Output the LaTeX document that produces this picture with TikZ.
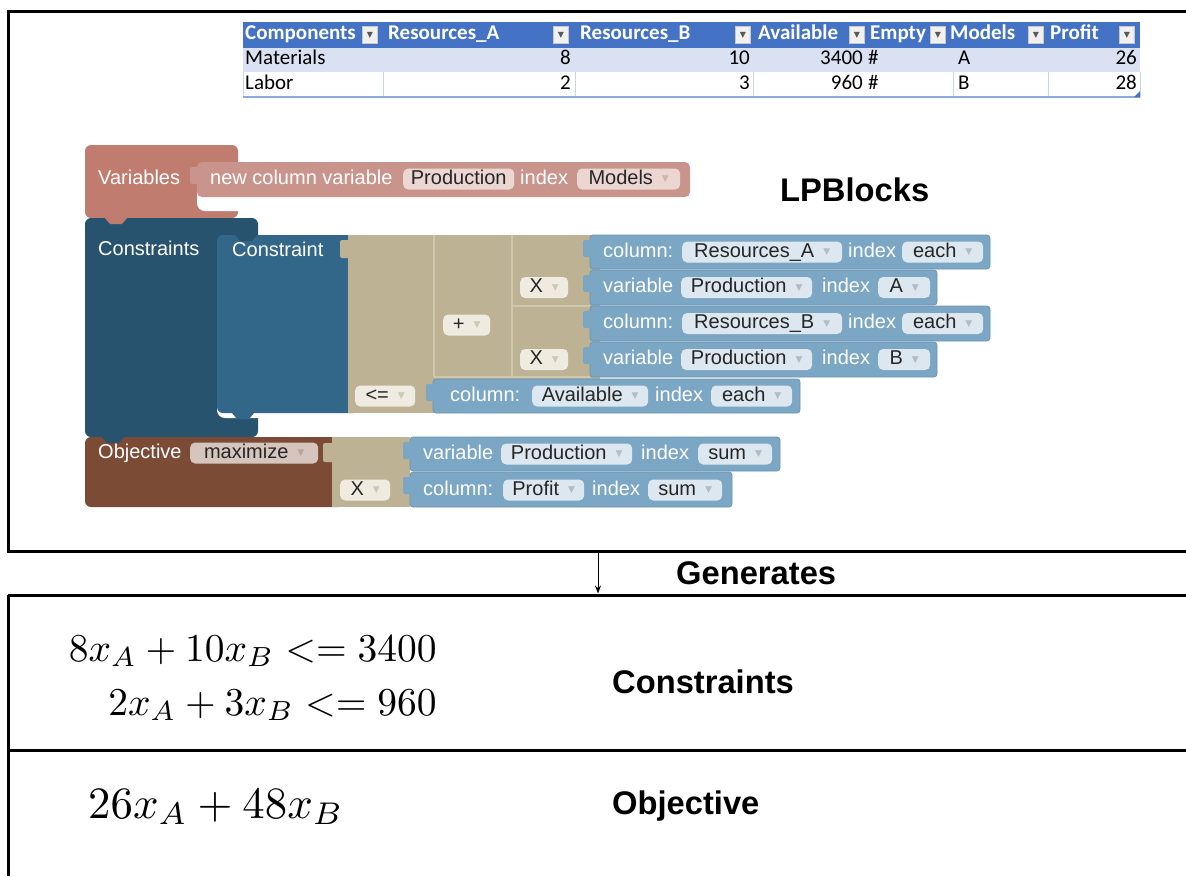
\RequirePackage{fix-cm}
\documentclass[tikz,border=0pt]{standalone}
\usepackage[no-math]{fontspec}
\setmainfont{Liberation Sans}
\newfontfamily\sheetfont{Carlito}
\newfontfamily\glyphfont{DejaVu Sans}
\usetikzlibrary{arrows.meta}

% spreadsheet colours
\definecolor{tblhead}{HTML}{4472C4}
\definecolor{tblrow}{HTML}{D9E1F2}
\definecolor{tblgrid}{HTML}{C9D5EA}
\definecolor{tbledge}{HTML}{8EA9DB}
\definecolor{ddboxfill}{HTML}{F0F0F0}
\definecolor{ddboxline}{HTML}{C8C8C8}
\definecolor{hddarrow}{HTML}{595959}
% block colours
\definecolor{varblk}{HTML}{C07D6F}
\definecolor{varchild}{HTML}{C9948C}
\definecolor{varfield}{HTML}{EBD6D2}
\definecolor{consdark}{HTML}{28536F}
\definecolor{consmid}{HTML}{32678A}
\definecolor{tanblk}{HTML}{BDB394}
\definecolor{tanseam}{HTML}{D0C8AE}
\definecolor{tanfield}{HTML}{EFEBE1}
\definecolor{blueblk}{HTML}{7BA6C4}
\definecolor{blueedge}{HTML}{6A94B1}
\definecolor{bluefield}{HTML}{DCE7EF}
\definecolor{objblk}{HTML}{7B4B35}
\definecolor{objfield}{HTML}{D6C5BD}
\definecolor{ddarrow}{HTML}{B3BCC2}
\definecolor{tanarrow}{HTML}{CFC8B4}
\definecolor{pinkarrow}{HTML}{D2B3AD}
\definecolor{brownarrow}{HTML}{B9A79F}

% small dropdown marks
\newcommand\dd[1][ddarrow]{\hspace{9pt}\raisebox{2.5pt}{\glyphfont\fontsize{9}{9}\selectfont\textcolor{#1}{▼}}\hspace{4pt}}
\newcommand\hdd{{\glyphfont\fontsize{8}{8}\selectfont\textcolor{hddarrow}{▼}}}

\tikzset{
  frame/.style={line width=3pt, draw=black},
  lbl/.style={anchor=west, inner sep=0pt, font=\bfseries\fontsize{32.7}{38}\selectfont},
  btext/.style={anchor=west, inner sep=0pt, text=white, font=\fontsize{20}{24}\selectfont, text height=14.5pt, text depth=4.5pt},
  field/.style={anchor=west, inner xsep=7pt, inner ysep=1pt, rounded corners=5pt, text=black!85, font=\fontsize{20}{24}\selectfont, text height=14.5pt, text depth=4.5pt},
  bfield/.style={field, fill=bluefield},
  pfield/.style={field, fill=varfield},
  tfield/.style={field, fill=tanfield},
  ofield/.style={field, fill=objfield},
  thead/.style={anchor=west, inner sep=0pt, text=white, font=\sheetfont\bfseries\fontsize{21}{25}\selectfont, text height=13pt, text depth=4pt},
  tcell/.style={inner sep=0pt, text=black, font=\sheetfont\fontsize{21}{25}\selectfont, text height=13pt, text depth=4pt},
  ddbox/.style={draw=ddboxline, fill=ddboxfill, minimum width=15pt, minimum height=17pt, inner sep=0pt},
  blueb/.style={fill=blueblk, draw=blueedge, line width=0.7pt, rounded corners=3pt},
  btab/.style={fill=blueblk, rounded corners=2pt},
}

\begin{document}
\begin{tikzpicture}[x=1pt, y=-1pt]
\useasboundingbox (0,0) rectangle (1186,876);
\fill[white] (0,0) rectangle (1186,876);

% ---------- frames ----------
\draw[frame] (1186,11) -- (8,11) -- (8,551) -- (1186,551);
\draw[frame] (8,595) -- (1186,595);
\draw[frame] (8,750) -- (1186,750);
\draw[frame] (8,595) -- (8,876);

% ---------- data sheet ----------
\fill[tblhead] (243,22) rectangle (1140,48);
\fill[tblrow] (243,48) rectangle (1140,72);
\draw[tblgrid, line width=1pt]
  (243,72) -- (243,97) (383,72) -- (383,97) (575,72) -- (575,97)
  (753,72) -- (753,97) (953,72) -- (953,97) (1048,72) -- (1048,97)
  (1140,72) -- (1140,97);
\draw[tbledge, line width=1.5pt] (243,97) -- (1140,97);
\fill[tblhead] (1140,97) -- (1134,97) -- (1140,91) -- cycle;

\node[thead] (hComp) at (245,35) {Components};
\node[ddbox] (ddComp) at (370,35) {\hdd};
\node[thead] (hResA) at (388,35) {Resources\_A};
\node[ddbox] (ddResA) at (561,35) {\hdd};
\node[thead] (hResB) at (580,35) {Resources\_B};
\node[ddbox] (ddResB) at (743,35) {\hdd};
\node[thead] (hAvail) at (758,35) {Available};
\node[ddbox] (ddAvail) at (857,35) {\hdd};
\node[thead] (hEmpty) at (870,35) {Empty};
\node[ddbox] (ddEmpty) at (938,35) {\hdd};
\node[thead] (hModels) at (950,35) {Models};
\node[ddbox] (ddModels) at (1036,35) {\hdd};
\node[thead] (hProfit) at (1050,35) {Profit};
\node[ddbox] (ddProfit) at (1127,35) {\hdd};

\node[tcell, anchor=west] (rMat) at (245,60) {Materials};
\node[tcell, anchor=east] (rMatA) at (571,60) {8};
\node[tcell, anchor=east] (rMatB) at (750,60) {10};
\node[tcell, anchor=east] (rMatAv) at (863,60) {3400};
\node[tcell, anchor=west] (rMatE) at (868,60) {\#};
\node[tcell, anchor=west] (rMatM) at (958,60) {A};
\node[tcell, anchor=east] (rMatP) at (1137,60) {26};

\node[tcell, anchor=west] (rLab) at (245,85) {Labor};
\node[tcell, anchor=east] (rLabA) at (571,85) {2};
\node[tcell, anchor=east] (rLabB) at (750,85) {3};
\node[tcell, anchor=east] (rLabAv) at (863,85) {960};
\node[tcell, anchor=west] (rLabE) at (868,85) {\#};
\node[tcell, anchor=west] (rLabM) at (958,85) {B};
\node[tcell, anchor=east] (rLabP) at (1137,85) {28};

% ---------- Variables block ----------
\fill[varblk, rounded corners=6pt] (85,145) rectangle (238,218);
\fill[white, rounded corners=8pt] (197,162) rectangle (250,211);
\fill[varchild, rounded corners=5pt] (197,162) rectangle (690,197);
\fill[varchild, rounded corners=2pt] (190,167) rectangle (200,184);

% ---------- Constraints block ----------
\fill[consdark, rounded corners=6pt] (85,218) rectangle (258,437);
\fill[white, rounded corners=8pt] (217,235) rectangle (270,418);
\fill[consmid, rounded corners=6pt] (217,235) rectangle (360,413);
\fill[consmid] (232,413) -- (237,419) -- (249,419) -- (254,413) -- cycle;
\fill[consdark] (235,235) -- (240,241) -- (252,241) -- (257,235) -- cycle;
\fill[varblk] (105,218) -- (110,224) -- (122,224) -- (127,218) -- cycle;

% ---------- Objective block ----------
\fill[objblk, rounded corners=6pt] (85,437) rectangle (345,507);
\fill[consdark] (102,437) -- (107,443) -- (119,443) -- (124,437) -- cycle;

% ---------- arithmetic blocks ----------
\fill[tanblk] (348,235) rectangle (600,413);
\fill[tanblk, rounded corners=2pt] (340,240) rectangle (352,258);
\fill[tanblk] (332,437) rectangle (410,507);
\fill[tanblk, rounded corners=2pt] (323,443) rectangle (335,462);
\draw[tanseam, line width=1.2pt]
  (434,235) -- (434,377) (512,235) -- (512,377)
  (512,306) -- (590,306) (434,377) -- (590,377);

% ---------- column / variable blocks ----------
\path[blueb] (590,235) rectangle (990,269);
\path[blueb] (590,270) rectangle (937,305);
\path[blueb] (590,306) rectangle (990,341);
\path[blueb] (590,342) rectangle (937,377);
\path[blueb] (433,379) rectangle (800,413);
\path[blueb] (410,437) rectangle (780,471);
\path[blueb] (410,472) rectangle (732,507);
\fill[btab] (583,240) rectangle (593,257);
\fill[btab] (583,275) rectangle (593,292);
\fill[btab] (583,311) rectangle (593,328);
\fill[btab] (583,347) rectangle (593,364);
\fill[btab] (426,384) rectangle (436,401);
\fill[btab] (403,442) rectangle (413,459);
\fill[btab] (403,477) rectangle (413,494);

% ---------- block texts ----------
\node[btext] (tVars) at (98,179) {Variables};
\node[btext] (tNew) at (210,179) {new column variable};
\node[pfield, minimum width=111pt] (fProd0) at (403,179) {Production};
\node[btext] (tIdx0) at (520,179) {index};
\node[pfield, minimum width=103pt] (fModels) at (577,179) {Models\dd[pinkarrow]};

\node[btext] (tCons) at (98,250) {Constraints};
\node[btext] (tCon) at (232,251) {Constraint};

\node[btext] (tCol1) at (603,252) {column:};
\node[bfield, minimum width=160pt] (fResA) at (682,252) {Resources\_A\dd};
\node[btext] (tIdx1) at (848,252) {index};
\node[bfield, minimum width=81pt] (fEach1) at (902,252) {each\dd};

\node[btext] (tVar2) at (603,287.5) {variable};
\node[bfield, minimum width=131pt] (fProd2) at (681,287.5) {Production\dd};
\node[btext] (tIdx2) at (822,287.5) {index};
\node[bfield, minimum width=52pt] (fA) at (878,287.5) {A\dd};

\node[btext] (tCol3) at (603,323.5) {column:};
\node[bfield, minimum width=160pt] (fResB) at (682,323.5) {Resources\_B\dd};
\node[btext] (tIdx3) at (848,323.5) {index};
\node[bfield, minimum width=81pt] (fEach3) at (902,323.5) {each\dd};

\node[btext] (tVar4) at (603,359.5) {variable};
\node[bfield, minimum width=131pt] (fProd4) at (681,359.5) {Production\dd};
\node[btext] (tIdx4) at (822,359.5) {index};
\node[bfield, minimum width=52pt] (fB) at (878,359.5) {B\dd};

\node[btext] (tCol5) at (450,396) {column:};
\node[bfield, minimum width=116pt] (fAvail) at (532,396) {Available\dd};
\node[btext] (tIdx5) at (655,396) {index};
\node[bfield, minimum width=81pt] (fEach5) at (711,396) {each\dd};

\node[tfield, minimum width=48pt] (fTimes1) at (520,287.5) {X\dd[tanarrow]};
\node[tfield, minimum width=47pt] (fPlus) at (443,325) {+\dd[tanarrow]};
\node[tfield, minimum width=48pt] (fTimes2) at (520,359.5) {X\dd[tanarrow]};
\node[tfield, minimum width=60pt] (fLeq) at (355,396) {<=\dd[tanarrow]};
\node[tfield, minimum width=50pt] (fTimes3) at (340,490) {X\dd[tanarrow]};

\node[btext] (tObj) at (98,453) {Objective};
\node[ofield, minimum width=128pt] (fMax) at (190,453) {maximize\dd[brownarrow]};

\node[btext] (tVar6) at (423,454) {variable};
\node[bfield, minimum width=131pt] (fProd6) at (501,454) {Production\dd};
\node[btext] (tIdx6) at (641,454) {index};
\node[bfield, minimum width=74pt] (fSum6) at (698,454) {sum\dd};

\node[btext] (tCol7) at (423,490) {column:};
\node[bfield, minimum width=81pt] (fProfit) at (503,490) {Profit\dd};
\node[btext] (tIdx7) at (592,490) {index};
\node[bfield, minimum width=74pt] (fSum7) at (648,490) {sum\dd};

% ---------- labels ----------
\node[lbl] (lpb) at (780,190) {LPBlocks};
\node[lbl] (gen) at (676,573) {Generates};
\node[lbl] (lcons) at (612,682) {Constraints};
\node[lbl] (lobj) at (612,806) {Objective};

\coordinate (genTop) at (598,552.5);
\coordinate (genBot) at (598,593.5);
\draw[line width=0.9pt, -{Stealth[length=8pt, width=6pt]}] (genTop) -- (genBot);

% ---------- generated model ----------
\node[anchor=base east, inner sep=0pt] (eq1) at (437,661)
  {\scalebox{3.95}{$8x_A+10x_B<=3400$}};
\node[anchor=base east, inner sep=0pt] (eq2) at (437,715)
  {\scalebox{3.95}{$2x_A+3x_B<=960$}};
\node[anchor=base west, inner sep=0pt] (obj) at (88,818)
  {\scalebox{4.48}{$26x_A+48x_B$}};
\end{tikzpicture}
\end{document}
